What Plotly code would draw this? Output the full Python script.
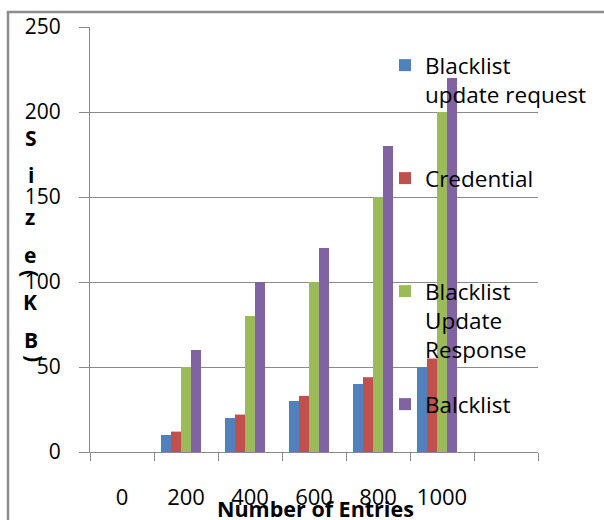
import plotly.graph_objects as go

# Number of entries (the last slot is an unlabeled empty category)
entries = ["0", "200", "400", "600", "800", "1000", " "]

# Size in KB for each message type
blacklist_update_request = [0, 10, 20, 30, 40, 50, None]
credential = [0, 12, 22, 33, 44, 55, None]
blacklist_update_response = [0, 50, 80, 100, 150, 200, None]
balcklist = [0, 60, 100, 120, 180, 220, None]

series_names = [
    "Blacklist<br>update request",
    "Credential",
    "Blacklist<br>Update<br>Response",
    "Balcklist",
]
series_values = [blacklist_update_request, credential,
                 blacklist_update_response, balcklist]
series_colors = ["#4F81BD", "#C0504D", "#9BBB59", "#8064A2"]

y_ticks = [0, 50, 100, 150, 200, 250]

FONT = "Open Sans"

# plot-area geometry in pixels (used for converting paper coordinates)
PLOT_L, PLOT_R, PLOT_T, PLOT_B = 90, 538, 27, 452
PW, PH = PLOT_R - PLOT_L, PLOT_B - PLOT_T


def px_x(x):
    return (x - PLOT_L) / PW


def px_y(y):
    return (PLOT_B - y) / PH


bar_w = 10 / 64
fig = go.Figure()
legend_ids = ["legend", "legend2", "legend3", "legend4"]
for i, (name, vals, col) in enumerate(zip(series_names, series_values, series_colors)):
    fig.add_trace(go.Bar(
        x=entries, y=vals, name=name,
        marker=dict(color=col, line=dict(width=0)),
        width=bar_w, offset=-25 / 64 + i * bar_w,
        legend=legend_ids[i],
    ))

# one legend box per series, evenly spaced down the right side
legend_marker_y = [67, 180, 293, 406]
legend_common = dict(
    bgcolor="rgba(0,0,0,0)", borderwidth=0,
    font=dict(family=FONT, size=22.5, color="#000000"),
    itemwidth=30, valign="top", xanchor="left", yanchor="top",
    itemclick=False, itemdoubleclick=False,
)
layout_legends = {}
for lid, my in zip(legend_ids, legend_marker_y):
    layout_legends[lid] = dict(legend_common, x=px_x(385), y=px_y(my - 23))

# vertically stacked y-axis title letters
title_letters = ["S", "i", "z", "e", "(", "K", "B", ")"]
letter_y = [138, 175, 217, 255, 273, 302, 340, 358]
letter_x = [31, 31, 30, 30, 31, 30, 31, 35]
letter_angle = [0, 0, 0, 0, 90, 0, 0, 90]
annotations = []
for ch, ly, lx, ang in zip(title_letters, letter_y, letter_x, letter_angle):
    annotations.append(dict(
        text=f"<b>{ch}</b>", x=px_x(lx), y=px_y(ly), xref="paper", yref="paper",
        xanchor="center", yanchor="middle", showarrow=False, textangle=ang,
        font=dict(family=FONT, size=21, color="#000000"),
    ))

annotations.append(dict(
    text="<b>Number of Entries</b>", x=px_x(315), y=px_y(509), xref="paper", yref="paper",
    xanchor="center", yanchor="middle", showarrow=False,
    font=dict(family=FONT, size=21.5, color="#000000"),
))

grid_col = "#8A8A8A"
fig.update_layout(
    width=604, height=520,
    margin=dict(l=PLOT_L, r=604 - PLOT_R, t=PLOT_T, b=520 - PLOT_B, pad=0,
                autoexpand=False),
    paper_bgcolor="white", plot_bgcolor="white",
    barmode="overlay", showlegend=True,
    annotations=annotations,
    shapes=[dict(type="rect", xref="paper", yref="paper",
                 x0=px_x(8), x1=px_x(640), y0=px_y(560), y1=px_y(12),
                 line=dict(color="#8C8C8C", width=2.5), layer="above")],
    xaxis=dict(
        type="category", categoryorder="array", categoryarray=entries,
        tickmode="array", tickvals=entries, ticktext=entries,
        range=[-0.5, len(entries) - 0.5],
        tickson="boundaries", ticks="outside", ticklen=8, tickcolor=grid_col,
        showline=True, linecolor=grid_col, linewidth=1,
        showgrid=False, zeroline=False, ticklabelstandoff=26,
        tickfont=dict(family=FONT, size=22, color="#000000"),
    ),
    yaxis=dict(
        range=[0, 250], tickvals=y_ticks, ticks="outside", ticklen=10,
        tickcolor=grid_col, showline=True, linecolor=grid_col, linewidth=1,
        showgrid=True, gridcolor=grid_col, gridwidth=1, zeroline=False,
        ticklabelstandoff=14,
        tickfont=dict(family=FONT, size=21, color="#000000"),
    ),
    **layout_legends,
)

fig.write_html("out.html")
